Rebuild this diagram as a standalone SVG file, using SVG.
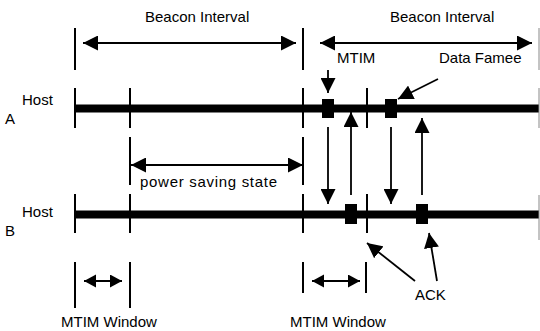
<svg xmlns="http://www.w3.org/2000/svg" width="540" height="331" viewBox="0 0 540 331">
<defs>
<style>
text{font-family:"Liberation Sans",Arial,sans-serif;font-size:15px;fill:#000}
.tick{stroke:#000;stroke-width:2;fill:none}
.edge{stroke:#888;stroke-width:1;fill:none}
.bus{stroke:#000;stroke-width:8;fill:none}
.arr{stroke:#000;stroke-width:1.8;fill:none}
.sarr{stroke:#000;stroke-width:2.2;fill:none}
.sq{fill:#000}
</style>
<marker id="h" markerUnits="userSpaceOnUse" markerWidth="16" markerHeight="15" refX="15" refY="7.5" orient="auto-start-reverse">
<path d="M0,0 L15,7.5 L0,15 z" fill="#000"/>
</marker>
<marker id="s" markerUnits="userSpaceOnUse" markerWidth="13" markerHeight="14" refX="12" refY="6.5" orient="auto-start-reverse">
<path d="M0,0 L12,6.5 L0,13 z" fill="#000"/>
</marker>
</defs>
<rect width="540" height="331" fill="#fff"/>

<g id="labels">
<text x="145" y="22">Beacon Interval</text>
<text x="390" y="22">Beacon Interval</text>
<text x="337" y="63">MTIM</text>
<text x="439" y="63">Data Famee</text>
<text x="140" y="187" textLength="137" lengthAdjust="spacing">power saving state</text>
<text x="415" y="300">ACK</text>
<text x="61" y="327">MTIM Window</text>
<text x="290" y="327">MTIM Window</text>
</g>

<g id="ticks">
<line class="tick" x1="75" y1="28" x2="75" y2="70"/>
<line class="tick" x1="303" y1="28" x2="303" y2="70"/>
<line class="edge" x1="539" y1="28" x2="539" y2="70"/>
<line class="tick" x1="130" y1="137" x2="130" y2="185"/>
<line class="tick" x1="303" y1="137" x2="303" y2="185"/>
<line class="tick" x1="75" y1="262" x2="75" y2="308"/>
<line class="tick" x1="130" y1="262" x2="130" y2="308"/>
<line class="tick" x1="303" y1="262" x2="303" y2="293"/>
<line class="tick" x1="366" y1="262" x2="366" y2="293"/>
</g>

<g id="hostA">
<text x="22" y="105">Host</text>
<text x="5" y="124">A</text>
<line class="bus" x1="75" y1="108.5" x2="539" y2="108.5"/>
<line class="tick" x1="75" y1="88" x2="75" y2="128"/>
<line class="tick" x1="130" y1="88" x2="130" y2="128"/>
<line class="tick" x1="303" y1="88" x2="303" y2="128"/>
<line class="tick" x1="367" y1="88" x2="367" y2="128"/>
<line class="edge" x1="539" y1="88" x2="539" y2="128"/>
<rect class="sq" x="322" y="99" width="12" height="19"/>
<rect class="sq" x="385" y="99" width="12" height="19"/>
</g>

<g id="hostB">
<text x="22" y="217">Host</text>
<text x="5" y="236">B</text>
<line class="bus" x1="75" y1="214.5" x2="539" y2="214.5"/>
<line class="tick" x1="75" y1="194" x2="75" y2="233"/>
<line class="tick" x1="130" y1="194" x2="130" y2="233"/>
<line class="tick" x1="303" y1="194" x2="303" y2="233"/>
<line class="tick" x1="367" y1="194" x2="367" y2="233"/>
<line class="edge" x1="539" y1="195" x2="539" y2="240"/>
<rect class="sq" x="345" y="204" width="12" height="20"/>
<rect class="sq" x="416" y="204" width="12" height="20"/>
</g>

<g id="connectors">
<line class="arr" x1="83" y1="43" x2="296" y2="43" marker-start="url(#h)" marker-end="url(#h)"/>
<line class="arr" x1="320" y1="43" x2="532" y2="43" marker-start="url(#h)" marker-end="url(#h)"/>
<line class="arr" x1="131" y1="165" x2="303" y2="165" marker-start="url(#h)" marker-end="url(#h)"/>
<line class="sarr" x1="84" y1="281" x2="122" y2="281" marker-start="url(#s)" marker-end="url(#s)"/>
<line class="sarr" x1="312" y1="281" x2="360" y2="281" marker-start="url(#s)" marker-end="url(#s)"/>
<line class="arr" x1="328" y1="70" x2="328" y2="93" marker-end="url(#h)"/>
<line class="arr" x1="438" y1="79" x2="398" y2="99" marker-end="url(#h)"/>
<line class="arr" x1="328" y1="127" x2="328" y2="204" marker-end="url(#h)"/>
<line class="arr" x1="351" y1="195" x2="351" y2="112" marker-end="url(#h)"/>
<line class="arr" x1="391" y1="127" x2="391" y2="204" marker-end="url(#h)"/>
<line class="arr" x1="422" y1="195" x2="422" y2="118" marker-end="url(#h)"/>
<line class="arr" x1="415" y1="281" x2="367" y2="243" marker-end="url(#h)"/>
<line class="arr" x1="437" y1="281" x2="429" y2="233" marker-end="url(#h)"/>
</g>
</svg>
